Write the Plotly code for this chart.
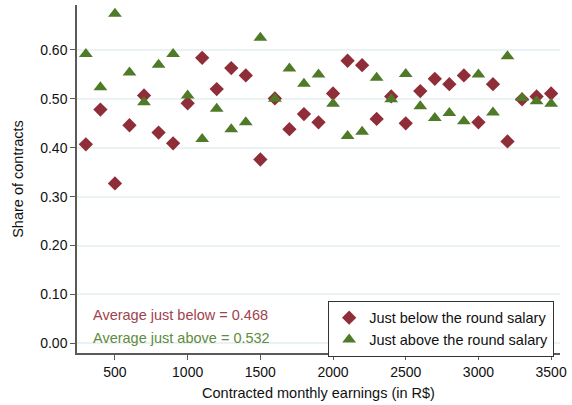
import plotly.graph_objects as go

# round salary thresholds (R$) and shares just below / just above them
salary = [300, 400, 500, 600, 700, 800, 900, 1000, 1100, 1200, 1300, 1400, 1500,
          1600, 1700, 1800, 1900, 2000, 2100, 2200, 2300, 2400, 2500, 2600, 2700,
          2800, 2900, 3000, 3100, 3200, 3300, 3400, 3500]
share_below = [0.407, 0.478, 0.327, 0.446, 0.507, 0.431, 0.409, 0.491, 0.584, 0.520,
               0.563, 0.548, 0.376, 0.501, 0.438, 0.469, 0.452, 0.511, 0.578, 0.569,
               0.459, 0.505, 0.450, 0.516, 0.541, 0.530, 0.548, 0.452, 0.530, 0.413,
               0.499, 0.505, 0.511]
share_above = [0.592, 0.524, 0.674, 0.554, 0.493, 0.570, 0.592, 0.507, 0.418, 0.480,
               0.438, 0.452, 0.625, 0.500, 0.562, 0.531, 0.550, 0.490, 0.424, 0.433,
               0.543, 0.499, 0.551, 0.485, 0.461, 0.471, 0.454, 0.550, 0.472, 0.587,
               0.502, 0.495, 0.490]

avg_below = 0.468
avg_above = 0.532

red = '#8f2d38'
green = '#4f7a28'
font = 'Liberation Sans, Arial, sans-serif'

fig = go.Figure()

fig.add_trace(go.Scatter(
    x=salary, y=share_below, mode='markers',
    name='Just below the round salary',
    marker=dict(symbol='diamond', size=11, color=red)
))
fig.add_trace(go.Scatter(
    x=salary, y=share_above, mode='markers',
    name='Just above the round salary',
    marker=dict(symbol='triangle-up', size=12, color=green)
))

# reference line at 0.5
fig.add_shape(type='line', xref='paper', yref='y', x0=0, x1=1, y0=0.5, y1=0.5,
              line=dict(color='#ababab', width=1.5, dash='dash'), layer='below')

fig.add_annotation(text=f'Average just below = {avg_below:.3f}', xref='paper', yref='paper',
                   x=0.029, y=0.109, xanchor='left', yanchor='middle', showarrow=False,
                   font=dict(size=14.5, color='#a0434c', family=font))
fig.add_annotation(text=f'Average just above = {avg_above:.3f}', xref='paper', yref='paper',
                   x=0.029, y=0.042, xanchor='left', yanchor='middle', showarrow=False,
                   font=dict(size=14.5, color='#5e8b3e', family=font))

fig.update_layout(
    width=572, height=405,
    margin=dict(l=77, r=7, t=5, b=52),
    plot_bgcolor='white', paper_bgcolor='white',
    font=dict(family=font, size=14, color='#111111'),
    legend=dict(
        x=0.52, y=0.15, xanchor='left', yanchor='top',
        bordercolor='#333333', borderwidth=1, bgcolor='white',
        font=dict(size=14.5), itemwidth=30
    ),
    xaxis=dict(
        range=[239, 3561], tickvals=[500, 1000, 1500, 2000, 2500, 3000, 3500],
        showgrid=False, zeroline=False,
        showline=True, linecolor='#5a5a5a', linewidth=1.5,
        ticks='outside', ticklen=5, tickcolor='#5a5a5a', tickwidth=1.2,
        title=dict(text='Contracted monthly earnings (in R$)', font=dict(size=14.5), standoff=9)
    ),
    yaxis=dict(
        range=[-0.0198, 0.692], tickvals=[0, 0.1, 0.2, 0.3, 0.4, 0.5, 0.6], tickformat='.2f',
        showgrid=True, gridcolor='#eaf2f3', gridwidth=1.5, zeroline=False,
        showline=True, linecolor='#5a5a5a', linewidth=1.5,
        ticks='outside', ticklen=5, tickcolor='#5a5a5a', tickwidth=1.2,
        title=dict(text='Share of contracts', font=dict(size=14.5), standoff=13)
    )
)

# drop the page's default body margin so the figure sits at the window corner
fig.write_html('out.html', config={'displayModeBar': False},
               post_script="document.body.style.margin='0';")
